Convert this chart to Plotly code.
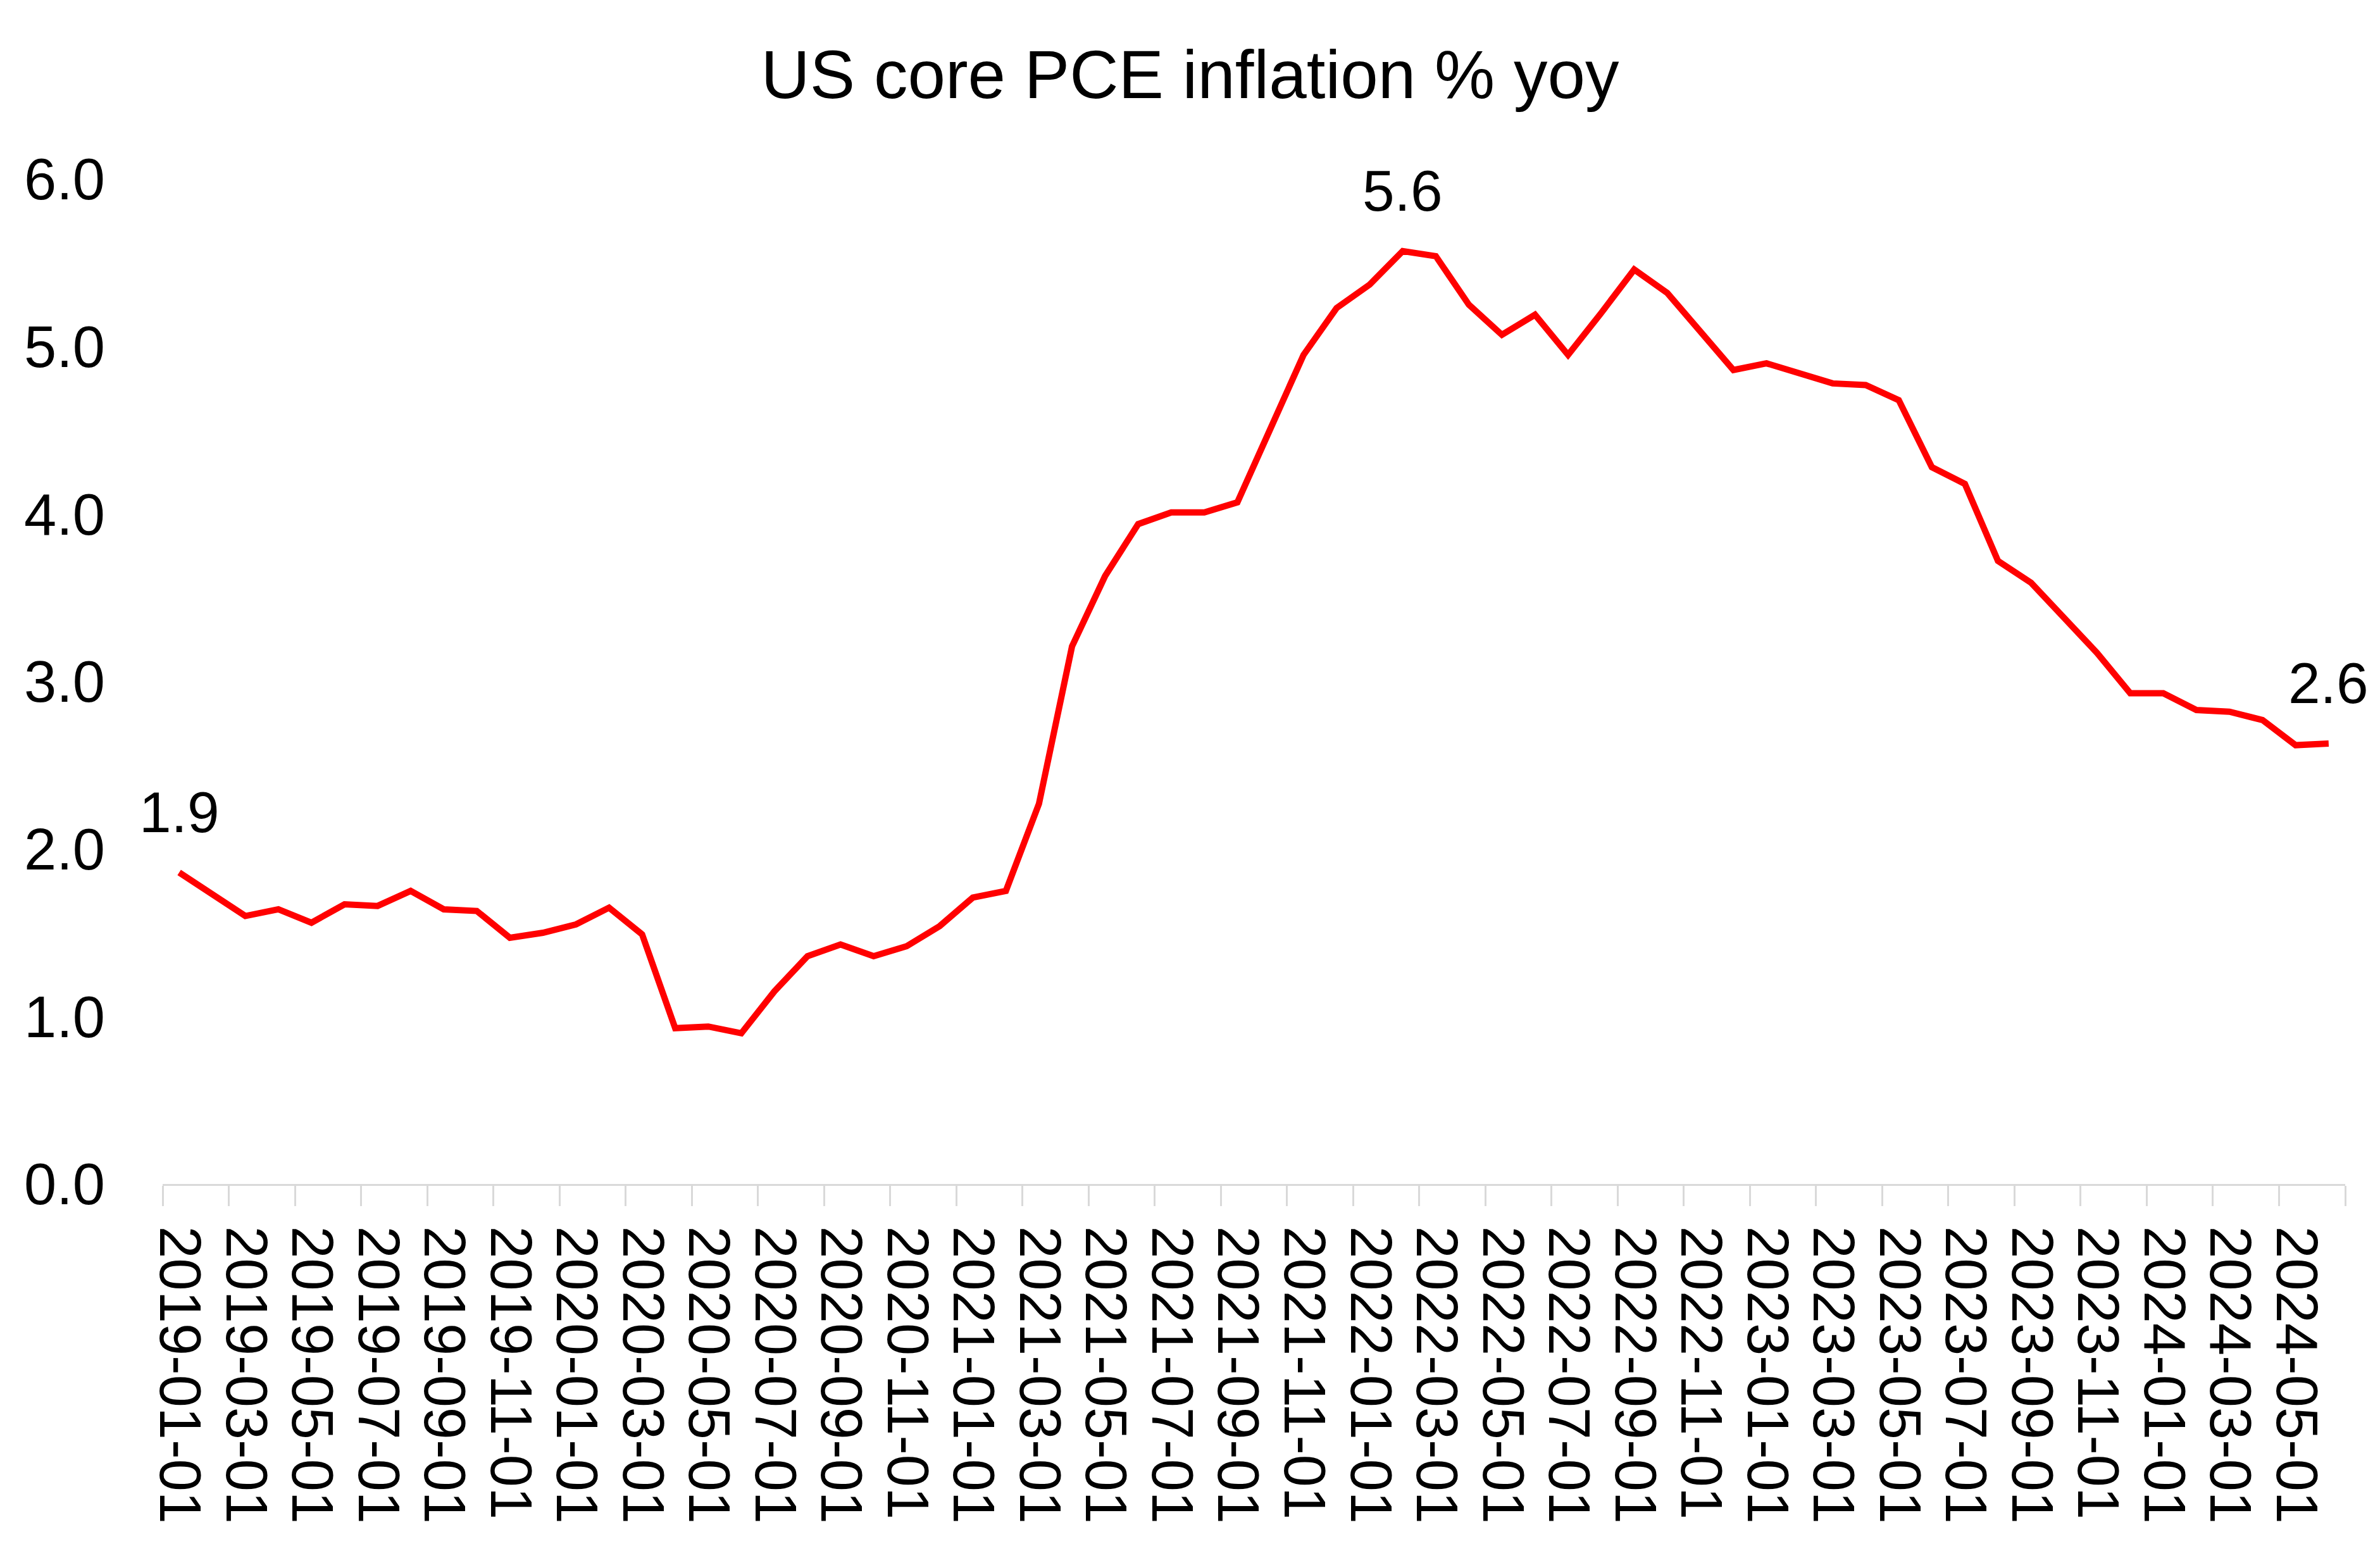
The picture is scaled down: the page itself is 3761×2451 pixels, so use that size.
import plotly.graph_objects as go

dates = [
    "2019-01-01", "2019-02-01", "2019-03-01", "2019-04-01", "2019-05-01", "2019-06-01",
    "2019-07-01", "2019-08-01", "2019-09-01", "2019-10-01", "2019-11-01", "2019-12-01",
    "2020-01-01", "2020-02-01", "2020-03-01", "2020-04-01", "2020-05-01", "2020-06-01",
    "2020-07-01", "2020-08-01", "2020-09-01", "2020-10-01", "2020-11-01", "2020-12-01",
    "2021-01-01", "2021-02-01", "2021-03-01", "2021-04-01", "2021-05-01", "2021-06-01",
    "2021-07-01", "2021-08-01", "2021-09-01", "2021-10-01", "2021-11-01", "2021-12-01",
    "2022-01-01", "2022-02-01", "2022-03-01", "2022-04-01", "2022-05-01", "2022-06-01",
    "2022-07-01", "2022-08-01", "2022-09-01", "2022-10-01", "2022-11-01", "2022-12-01",
    "2023-01-01", "2023-02-01", "2023-03-01", "2023-04-01", "2023-05-01", "2023-06-01",
    "2023-07-01", "2023-08-01", "2023-09-01", "2023-10-01", "2023-11-01", "2023-12-01",
    "2024-01-01", "2024-02-01", "2024-03-01", "2024-04-01", "2024-05-01", "2024-06-01",
]

core_pce_yoy = [
    1.86, 1.73, 1.60, 1.64, 1.56, 1.67, 1.66, 1.75, 1.64, 1.63, 1.47, 1.50,
    1.55, 1.65, 1.49, 0.93, 0.94, 0.90, 1.15, 1.36, 1.43, 1.36, 1.42, 1.54,
    1.71, 1.75, 2.27, 3.21, 3.63, 3.94, 4.01, 4.01, 4.07, 4.51, 4.95, 5.23,
    5.37, 5.57, 5.54, 5.25, 5.07, 5.19, 4.95, 5.20, 5.46, 5.32, 5.09, 4.86,
    4.90, 4.84, 4.78, 4.77, 4.68, 4.28, 4.18, 3.72, 3.59, 3.38, 3.17, 2.93,
    2.93, 2.83, 2.82, 2.77, 2.62, 2.63,
]

y_ticks = [0, 1, 2, 3, 4, 5, 6]
title_text = "US core PCE inflation % yoy"

FONT = "Liberation Sans, Arial, sans-serif"

fig = go.Figure()
fig.add_trace(go.Scatter(
    x=dates, y=core_pce_yoy, mode="lines",
    line=dict(color="#FF0000", width=10),
    hoverinfo="x+y", showlegend=False,
))

label_idx = [0, core_pce_yoy.index(max(core_pce_yoy)), len(core_pce_yoy) - 1]
for i in label_idx:
    fig.add_annotation(
        x=dates[i], y=core_pce_yoy[i], text=f"{core_pce_yoy[i]:.1f}",
        showarrow=False, xanchor="center", yanchor="middle", yshift=95,
        font=dict(family=FONT, size=91, color="black"),
    )

fig.update_layout(
    width=3761, height=2451,
    margin=dict(l=257, r=55, t=283, b=580),
    paper_bgcolor="white", plot_bgcolor="white",
    font=dict(family=FONT, color="black"),
    title=dict(
        text=title_text, x=0.5, xanchor="center", xref="container",
        y=1 - 118 / 2451, yref="container", yanchor="middle",
        font=dict(family=FONT, size=107, color="black"),
    ),
    xaxis=dict(
        type="category", range=[-0.5, len(dates) - 0.5],
        tickmode="linear", tick0=0, dtick=2,
        tickangle=90, tickfont=dict(family=FONT, size=92, color="black"),
        ticks="outside", ticklen=32, tickwidth=3, tickcolor="#d9d9d9",
        tickson="boundaries",
        showline=True, linecolor="#d9d9d9", linewidth=3,
        showgrid=False, zeroline=False,
        ticklabelstandoff=45,
    ),
    yaxis=dict(
        range=[0, 6], tickmode="array", tickvals=y_ticks,
        tickformat=".1f", tickfont=dict(family=FONT, size=92, color="black"),
        showgrid=False, zeroline=False, showline=False, ticks="",
        ticklabelstandoff=90,
    ),
)

fig.write_html(
    "out.html",
    config={"displayModeBar": False},
    post_script="document.body.style.margin='0';",
)
